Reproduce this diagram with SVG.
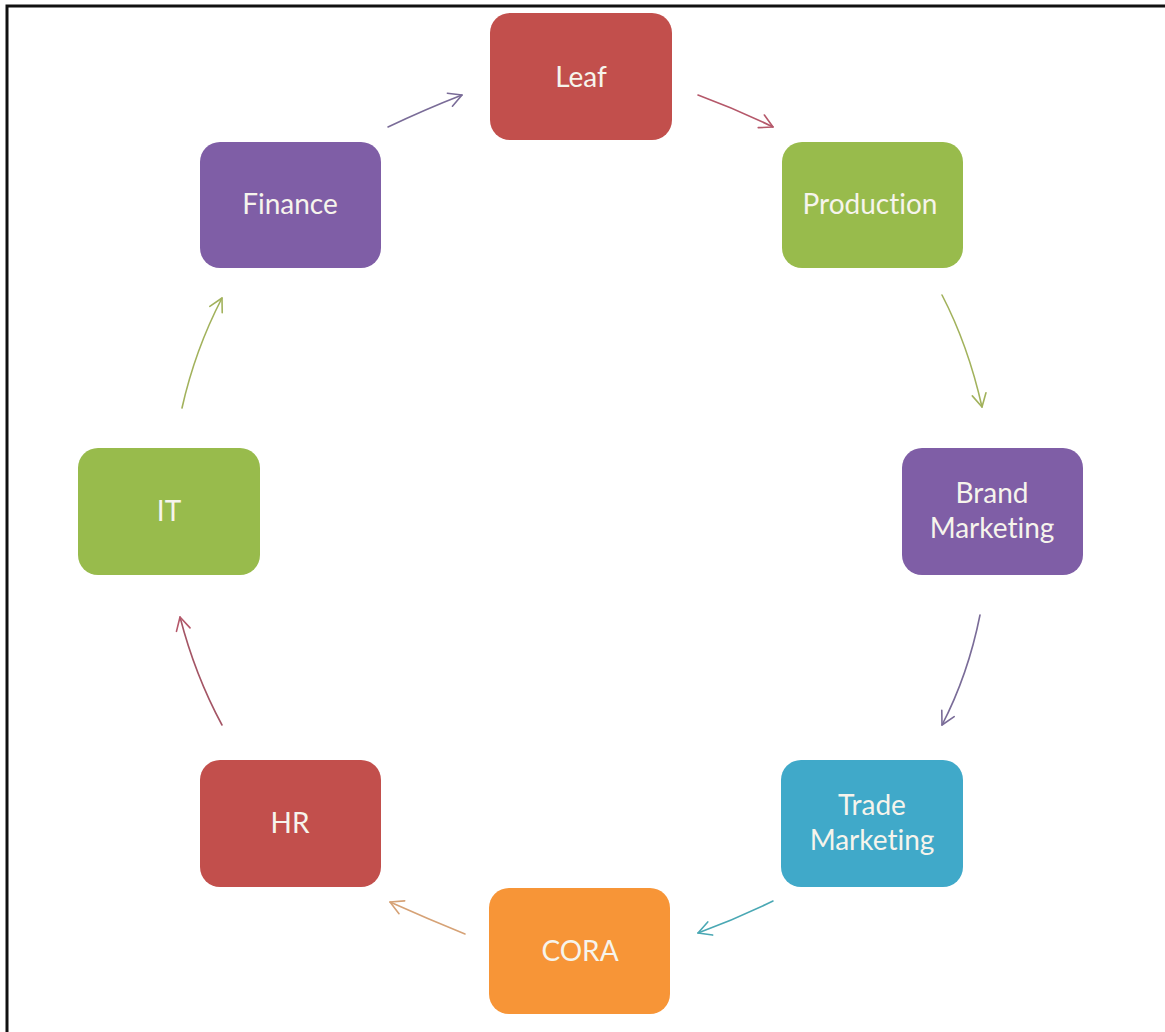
<svg xmlns="http://www.w3.org/2000/svg" width="1165" height="1032" viewBox="0 0 1165 1032">
  <style>
    .box { stroke: none; }
    .red { fill: #c24f4c; }
    .green { fill: #98bb4c; }
    .purple { fill: #7f5ea6; }
    .blue { fill: #40a9c9; }
    .orange { fill: #f79537; }
    .lbl { font-family: Lato, "Open Sans", "Liberation Sans", sans-serif; font-size: 28px; fill: #f6f4ec; text-anchor: middle; font-variant-ligatures: none; }
    .conn { fill: none; stroke-width: 1.6; stroke-linecap: round; }
  </style>
  <defs>
    <marker id="ah-purple" markerUnits="userSpaceOnUse" markerWidth="30" markerHeight="30" viewBox="-15 -15 30 30" refX="0" refY="0" orient="auto">
      <path d="M-13,-7 L0,0 L-13,7" fill="none" stroke="#7a6c98" stroke-width="1.6" stroke-linecap="round" stroke-linejoin="round"/>
    </marker>
    <marker id="ah-red" markerUnits="userSpaceOnUse" markerWidth="30" markerHeight="30" viewBox="-15 -15 30 30" refX="0" refY="0" orient="auto">
      <path d="M-13,-7 L0,0 L-13,7" fill="none" stroke="#b5586a" stroke-width="1.6" stroke-linecap="round" stroke-linejoin="round"/>
    </marker>
    <marker id="ah-green" markerUnits="userSpaceOnUse" markerWidth="30" markerHeight="30" viewBox="-15 -15 30 30" refX="0" refY="0" orient="auto">
      <path d="M-13,-7 L0,0 L-13,7" fill="none" stroke="#a2b25c" stroke-width="1.6" stroke-linecap="round" stroke-linejoin="round"/>
    </marker>
    <marker id="ah-teal" markerUnits="userSpaceOnUse" markerWidth="30" markerHeight="30" viewBox="-15 -15 30 30" refX="0" refY="0" orient="auto">
      <path d="M-13,-7 L0,0 L-13,7" fill="none" stroke="#4aa8b4" stroke-width="1.6" stroke-linecap="round" stroke-linejoin="round"/>
    </marker>
    <marker id="ah-orange" markerUnits="userSpaceOnUse" markerWidth="30" markerHeight="30" viewBox="-15 -15 30 30" refX="0" refY="0" orient="auto">
      <path d="M-13,-7 L0,0 L-13,7" fill="none" stroke="#d6a276" stroke-width="1.6" stroke-linecap="round" stroke-linejoin="round"/>
    </marker>
  </defs>

  <rect width="1165" height="1032" fill="#ffffff"/>
  <!-- frame: top and left edges -->
  <path d="M7,1032 V6 H1165" fill="none" stroke="#111111" stroke-width="3"/>

  <g id="connectors">
    <path class="conn" d="M388,127 Q426,109 462,95" stroke="#7a6c98" marker-end="url(#ah-purple)"/>
    <path class="conn" d="M698,95 Q736,109 773,127" stroke="#b5586a" marker-end="url(#ah-red)"/>
    <path class="conn" d="M942,295 Q968,345 982,407" stroke="#a2b25c" marker-end="url(#ah-green)"/>
    <path class="conn" d="M980,615 Q968,675 942,725" stroke="#7a6c98" marker-end="url(#ah-purple)"/>
    <path class="conn" d="M773,901 Q736,919 698,933" stroke="#4aa8b4" marker-end="url(#ah-teal)"/>
    <path class="conn" d="M465,934 Q428,919 390,902" stroke="#d6a276" marker-end="url(#ah-orange)"/>
    <path class="conn" d="M222,725 Q195,675 180,617" stroke="#a45565" marker-end="url(#ah-red)"/>
    <path class="conn" d="M182,408 Q195,350 222,298" stroke="#a2b25c" marker-end="url(#ah-green)"/>
  </g>

  <g id="leaf">
    <rect class="box red" x="490" y="13" width="182" height="127" rx="20"/>
    <text class="lbl" x="581" y="87">Leaf</text>
  </g>
  <g id="production">
    <rect class="box green" x="782" y="142" width="181" height="126" rx="20"/>
    <text class="lbl" x="870" y="214">Production</text>
  </g>
  <g id="brand-marketing">
    <rect class="box purple" x="902" y="448" width="181" height="127" rx="20"/>
    <text class="lbl" x="992" y="503">Brand</text>
    <text class="lbl" x="992" y="538">Marketing</text>
  </g>
  <g id="trade-marketing">
    <rect class="box blue" x="781" y="760" width="182" height="127" rx="20"/>
    <text class="lbl" x="872" y="815">Trade</text>
    <text class="lbl" x="872" y="850">Marketing</text>
  </g>
  <g id="cora">
    <rect class="box orange" x="489" y="888" width="181" height="126" rx="20"/>
    <text class="lbl" x="580" y="961">CORA</text>
  </g>
  <g id="hr">
    <rect class="box red" x="200" y="760" width="181" height="127" rx="20"/>
    <text class="lbl" x="290" y="833">HR</text>
  </g>
  <g id="it">
    <rect class="box green" x="78" y="448" width="182" height="127" rx="20"/>
    <text class="lbl" x="169" y="521">IT</text>
  </g>
  <g id="finance">
    <rect class="box purple" x="200" y="142" width="181" height="126" rx="20"/>
    <text class="lbl" x="290" y="214">Finance</text>
  </g>
</svg>
